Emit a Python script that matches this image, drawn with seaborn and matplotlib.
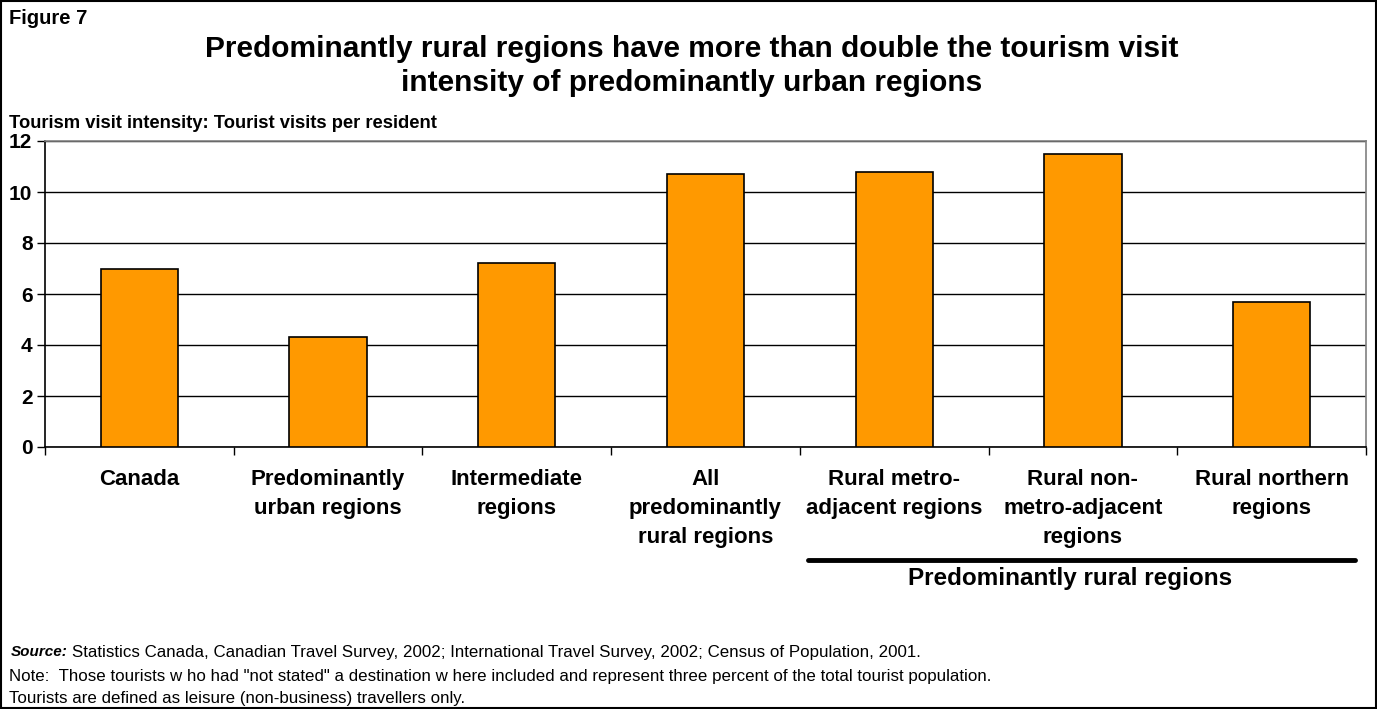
import matplotlib
matplotlib.use("Agg")
import matplotlib.pyplot as plt
import seaborn as sns
import pandas as pd
from matplotlib.patches import Rectangle
from matplotlib.lines import Line2D

categories = ["Canada", "Predominantly\nurban regions", "Intermediate\nregions",
              "All\npredominantly\nrural regions", "Rural metro-\nadjacent regions",
              "Rural non-\nmetro-adjacent\nregions", "Rural northern\nregions"]
values = [7.0, 4.3, 7.2, 10.7, 10.8, 11.5, 5.7]
yticks = [0, 2, 4, 6, 8, 10, 12]

sns.set_style("white")
plt.rcParams['font.family'] = ['Liberation Sans', 'DejaVu Sans']
plt.rcParams['text.color'] = 'black'
plt.rcParams['xtick.color'] = 'black'
plt.rcParams['ytick.color'] = 'black'

df = pd.DataFrame({"cat": categories, "val": values})
fig = plt.figure(figsize=(13.77, 7.09), dpi=100)
ax = fig.add_axes([45/1377, 1-447/709, (1366-45)/1377, (447-141)/709])
sns.barplot(data=df, x="cat", y="val", color="#FF9900", edgecolor="black",
            linewidth=1.2, width=0.41, saturation=1, ax=ax, zorder=3)
ax.set_ylim(0, 12)
ax.set_xlim(-0.5, len(categories) - 0.5)
ax.set_yticks(yticks)
ax.set_yticklabels([str(v) for v in yticks], fontsize=15, fontweight="bold", color="black")
ax.yaxis.grid(True, color="black", linewidth=1, zorder=0)
ax.set_axisbelow(True)
ax.set_xlabel("")
ax.set_ylabel("")
ax.set_xticks(range(len(categories)))
ax.set_xticklabels(categories, fontsize=16, fontweight="bold", linespacing=1.5, va="top",
                   color="black")
ax.set_xticks([i + 0.5 for i in range(-1, len(categories))], minor=True)
ax.tick_params(axis="x", which="major", length=0, pad=16)
ax.tick_params(axis="x", which="minor", length=6, width=1, color="black", direction="out", bottom=True)
ax.tick_params(axis="y", length=6, width=1, color="black", direction="out", left=True, pad=3)
for s in ["left", "bottom"]:
    ax.spines[s].set_color("black")
    ax.spines[s].set_linewidth(1.2)
for s in ["top", "right"]:
    ax.spines[s].set_color("#808080")
    ax.spines[s].set_linewidth(1.2)

fig.text(9/1377, 1-19/709, "Figure 7", fontsize=14.5, fontweight="bold", va="center", ha="left")
fig.text(692/1377, 1-49/709, "Predominantly rural regions have more than double the tourism visit",
         fontsize=21.5, fontweight="bold", ha="center", va="center")
fig.text(692/1377, 1-83/709, "intensity of predominantly urban regions",
         fontsize=21.5, fontweight="bold", ha="center", va="center")
fig.text(9/1377, 1-124/709, "Tourism visit intensity: Tourist visits per resident",
         fontsize=13.2, fontweight="bold", ha="left", va="center")

fig.add_artist(Line2D([808/1377, 1355/1377], [1-560/709, 1-560/709], color="black",
                      linewidth=3.5, transform=fig.transFigure))
fig.text(1070/1377, 1-579/709, "Predominantly rural regions", fontsize=17.5, fontweight="bold",
         ha="center", va="center")

fs = 12.2
fig.text(11/1377, 1-652/709, "Source:", fontsize=11, fontweight="bold", style="italic",
         ha="left", va="center")
fig.text(72/1377, 1-652/709,
         "Statistics Canada, Canadian Travel Survey, 2002; International Travel Survey, 2002; Census of Population, 2001.",
         fontsize=fs, ha="left", va="center")
fig.text(9/1377, 1-676/709,
         "Note:  Those tourists w ho had \"not stated\" a destination w here included and represent three percent of the total tourist population.",
         fontsize=fs, ha="left", va="center")
fig.text(9/1377, 1-699/709, "Tourists are defined as leisure (non-business) travellers only.",
         fontsize=fs, ha="left", va="center")

fig.add_artist(Rectangle((0.001, 0.001), 0.998, 0.998, fill=False, edgecolor="black",
                         linewidth=1.5, transform=fig.transFigure))
fig.savefig("out.png", dpi=100)
